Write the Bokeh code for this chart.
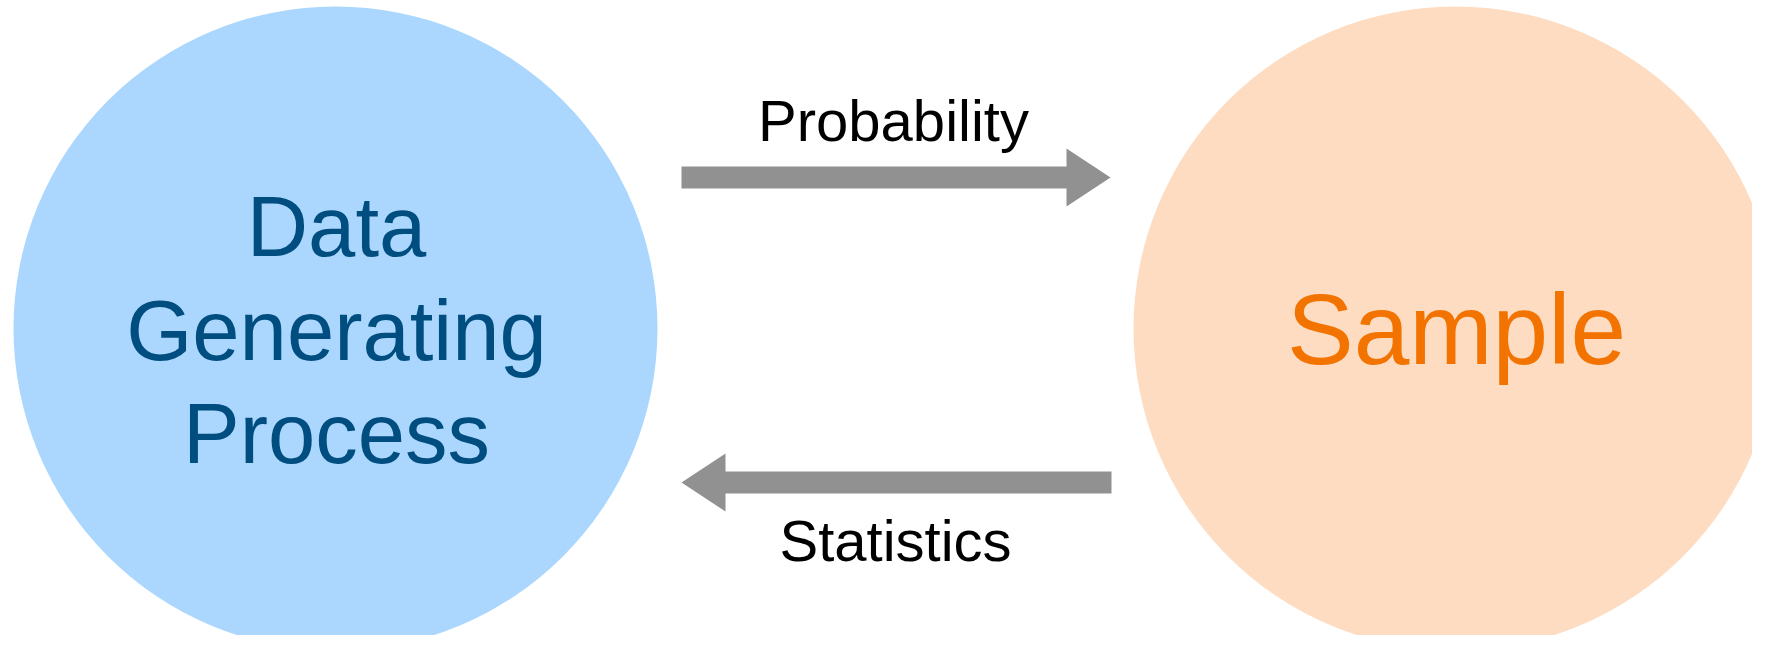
from bokeh.plotting import figure
from bokeh.models import Range1d
from bokeh.core.properties import value
from bokeh.embed import file_html
from bokeh.resources import INLINE

# ---- data (in pixel coordinates of the diagram) ----
node_names = ["Data Generating Process", "Sample"]
node_x = [335, 1455]
node_y = [328, 328]
node_r = [322, 322]
node_fill = ["#ABD7FE", "#FEDCC1"]

left_lines = ["Data", "Generating", "Process"]
left_line_x = [336, 336, 336]
left_line_y = [226, 330, 433]

sample_label = ["Sample"]
sample_x = [1456]
sample_y = [328]

arrow_labels = ["Probability", "Statistics"]
arrow_tail_x = [681, 1111]
arrow_tip_x = [1110, 681]
arrow_y = [177, 482]
label_x = [893, 895]
label_y = [120, 540]

SHAFT_HALF = 11
HEAD_LEN = 44
HEAD_HALF = 29

p = figure(width=1752, height=635, output_backend="svg", toolbar_location=None,
           x_range=Range1d(0, 1752), y_range=Range1d(635, 0),
           min_border=0, x_axis_location=None, y_axis_location=None)
p.grid.visible = False
p.outline_line_color = None
p.background_fill_color = "white"
p.border_fill_color = "white"

p.circle(x=node_x, y=node_y, radius=node_r, fill_color=node_fill, line_color=None)

# arrows built from tail/tip data
xs, ys = [], []
for tx, hx, y in zip(arrow_tail_x, arrow_tip_x, arrow_y):
    d = 1 if hx > tx else -1
    base = hx - d * HEAD_LEN
    xs.append([tx, base, base, hx, base, base, tx])
    ys.append([y - SHAFT_HALF, y - SHAFT_HALF, y - HEAD_HALF, y, y + HEAD_HALF, y + SHAFT_HALF, y + SHAFT_HALF])
p.patches(xs=xs, ys=ys, fill_color="#919191", line_color=None)

font = value("Liberation Sans")
p.text(x=left_line_x, y=left_line_y, text=left_lines, text_font=font,
       text_font_size="85px", text_color="#004D80", text_align="center",
       text_baseline="middle")
p.text(x=sample_x, y=sample_y, text=sample_label, text_font=font,
       text_font_size="100px", text_color="#F27300", text_align="center",
       text_baseline="middle")
p.text(x=label_x, y=label_y, text=arrow_labels, text_font=font,
       text_font_size="58px", text_color="#000000", text_align="center",
       text_baseline="middle")

open("out.html", "w").write(file_html(p, INLINE))
